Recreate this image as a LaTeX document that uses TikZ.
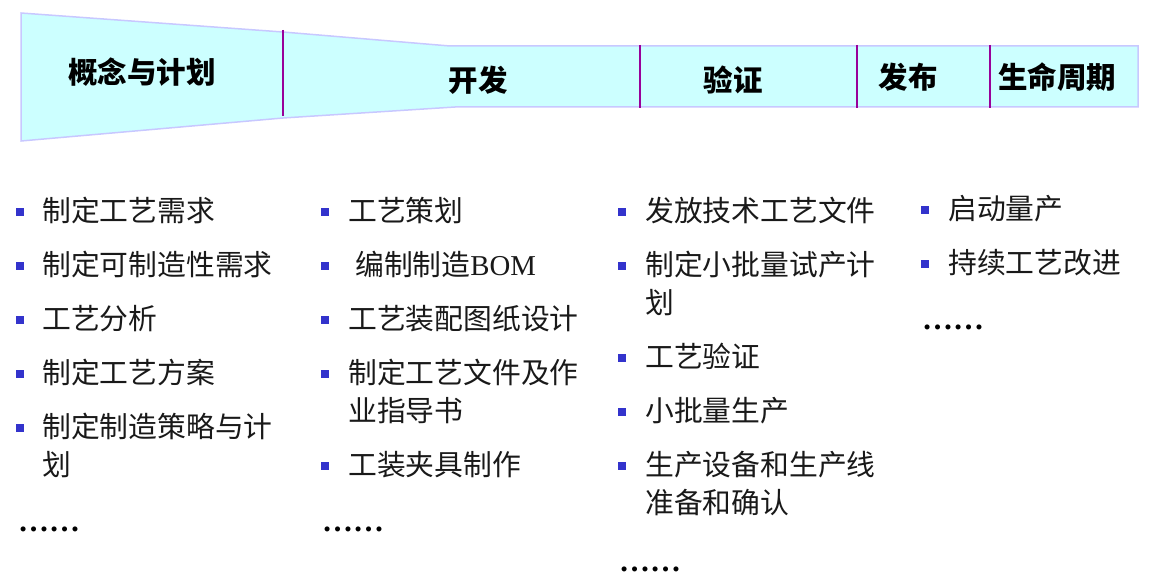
\documentclass[tikz,border=0pt]{standalone}
\usepackage{fontspec}
\newfontfamily\cjk{Noto Sans CJK SC}
\newfontfamily\lserif{Liberation Serif}
\definecolor{funfill}{HTML}{CCFFFF}
\definecolor{funline}{HTML}{C8C8FF}
\definecolor{divline}{HTML}{990099}
\definecolor{bulblue}{HTML}{3333CC}
\tikzset{
  phase/.style={font=\cjk\bfseries\fontsize{29.5}{32}\selectfont, inner sep=0pt, anchor=center},
  item/.style={font=\cjk\fontsize{28.8}{32}\selectfont, inner sep=0pt, anchor=base west, text=black!90},
  dots/.style={font=\lserif\bfseries\fontsize{31}{32}\selectfont, inner sep=0pt, anchor=base west},
  bul/.style={fill=bulblue, minimum size=8pt, inner sep=0pt, draw=none},
  divider/.style={draw=divline, line width=1.3pt}
}
\begin{document}
\begin{tikzpicture}[x=1pt,y=-1pt]
\useasboundingbox (0,0) rectangle (1150,583);
% funnel
\draw[funline, fill=funfill, line width=1.5pt] (21,13) -- (283,32) -- (450,46) -- (1138,46) -- (1138,107) -- (455,107) -- (283,118) -- (21,141) -- cycle;
\draw[divider] (283,30) -- (283,116);
\draw[divider] (640,45) -- (640,108);
\draw[divider] (857,45) -- (857,108);
\draw[divider] (990,45) -- (990,108);
% phase labels
\node[phase] (p1) at (142,72) {概念与计划};
\node[phase] (p2) at (478,80) {开发};
\node[phase] (p3) at (733,80) {验证};
\node[phase] (p4) at (908,77) {发布};
\node[phase] (p5) at (1057,77) {生命周期};
% column 1
\node[bul] (a1b) at (20,212) {}; \node[item] (a1) at (42,221.5) {制定工艺需求};
\node[bul] (a2b) at (20,266) {}; \node[item] (a2) at (42,275.5) {制定可制造性需求};
\node[bul] (a3b) at (20,320) {}; \node[item] (a3) at (42,329.5) {工艺分析};
\node[bul] (a4b) at (20,374) {}; \node[item] (a4) at (42,383.5) {制定工艺方案};
\node[bul] (a5b) at (20,428) {}; \node[item] (a5) at (42,437.5) {制定制造策略与计};
\node[item] (a5c) at (42,475.5) {划};
\node[dots] (a6) at (18,531) {……};
% column 2
\node[bul] (b1b) at (325,212) {}; \node[item] (b1) at (348,221.5) {工艺策划};
\node[bul] (b2b) at (325,266) {}; \node[item] (b2) at (355,275.5) {编制制造{\lserif BOM}};
\node[bul] (b3b) at (325,320) {}; \node[item] (b3) at (348,329.5) {工艺装配图纸设计};
\node[bul] (b4b) at (325,374) {}; \node[item] (b4) at (348,383.5) {制定工艺文件及作};
\node[item] (b4c) at (348,421.5) {业指导书};
\node[bul] (b5b) at (325,466) {}; \node[item] (b5) at (348,475.5) {工装夹具制作};
\node[dots] (b6) at (322,531) {……};
% column 3
\node[bul] (c1b) at (622,212) {}; \node[item] (c1) at (645,221.5) {发放技术工艺文件};
\node[bul] (c2b) at (622,266) {}; \node[item] (c2) at (645,275.5) {制定小批量试产计};
\node[item] (c2c) at (645,313.5) {划};
\node[bul] (c3b) at (622,358) {}; \node[item] (c3) at (645,367.5) {工艺验证};
\node[bul] (c4b) at (622,412) {}; \node[item] (c4) at (645,421.5) {小批量生产};
\node[bul] (c5b) at (622,466) {}; \node[item] (c5) at (645,475.5) {生产设备和生产线};
\node[item] (c5c) at (645,513.5) {准备和确认};
\node[dots] (c6) at (619,571) {……};
% column 4
\node[bul] (d1b) at (925,210) {}; \node[item] (d1) at (948,219.5) {启动量产};
\node[bul] (d2b) at (925,264) {}; \node[item] (d2) at (948,273.5) {持续工艺改进};
\node[dots] (d3) at (922,329) {……};
\end{tikzpicture}
\end{document}
